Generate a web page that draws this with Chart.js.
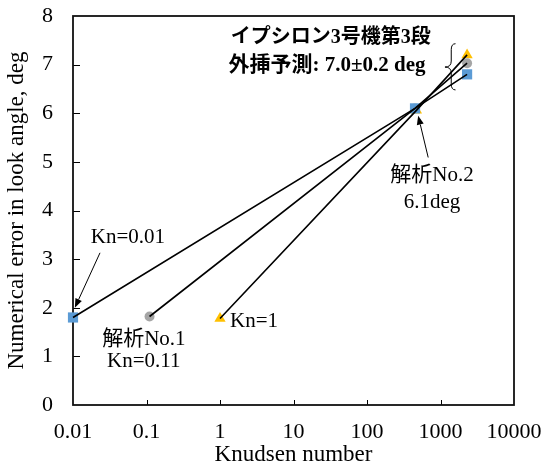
<!DOCTYPE html>
<html>
<head>
<meta charset="utf-8">
<script src="https://cdn.jsdelivr.net/npm/chart.js@4/dist/chart.umd.min.js"></script>
<style>
  html, body { margin: 0; padding: 0; background: #fff; }
</style>
</head>
<body>
<canvas id="c" width="545" height="467"></canvas>
<script>
// Axis ticks
const xTickValues = [0.01, 0.1, 1, 10, 100, 1000, 10000];
const xTickLabels = ['0.01', '0.1', '1', '10', '100', '1000', '10000'];
const yTickValues = [0, 1, 2, 3, 4, 5, 6, 7, 8];

// Kn=0.01 case: computed point, 解析No.2 point, extrapolated end
const kn001Kn = [0.01, 450, 2300];
const kn001Err = [1.8, 6.1, 6.8];

// 解析No.1 (Kn=0.11)
const kn011Kn = [0.11, 450, 2300];
const kn011Err = [1.82, 6.1, 7.03];

// Kn=1 case
const kn1Kn = [1, 470, 2300];
const kn1Err = [1.78, 6.06, 7.2];

const SERIF = "'Liberation Serif', 'Noto Sans CJK JP', serif";
const BLUE = '#5B9BD5', GRAY = '#A5A5A5', GOLD = '#FFC000';

const pts = (xs, ys) => xs.map((x, i) => ({ x: x, y: ys[i] }));

function markerSet(xs, ys, style, color, radius, order) {
  return {
    data: pts(xs, ys), showLine: false, order: order, clip: false,
    pointStyle: style, pointRadius: radius, pointHoverRadius: radius,
    pointBackgroundColor: color, pointBorderColor: color, pointBorderWidth: 0
  };
}
function lineSet(xs, ys) {
  return {
    data: pts(xs, ys), showLine: true, order: 1, clip: false,
    borderColor: '#000', borderWidth: 1.6, pointRadius: 0, pointHoverRadius: 0,
    fill: false, tension: 0
  };
}

function arrow(ctx, x1, y1, x2, y2) {
  const a = Math.atan2(y2 - y1, x2 - x1);
  const len = 9, half = 3.5;
  const bx = x2 - len * Math.cos(a), by = y2 - len * Math.sin(a);
  ctx.beginPath();
  ctx.moveTo(x1, y1);
  ctx.lineTo(bx, by);
  ctx.lineWidth = 1;
  ctx.strokeStyle = '#000';
  ctx.stroke();
  ctx.beginPath();
  ctx.moveTo(x2, y2);
  ctx.lineTo(bx + half * Math.sin(a), by - half * Math.cos(a));
  ctx.lineTo(bx - half * Math.sin(a), by + half * Math.cos(a));
  ctx.closePath();
  ctx.fillStyle = '#000';
  ctx.fill();
}

// Plot frame and inward tick marks
const framePlugin = {
  id: 'frame',
  beforeDatasetsDraw(chart) {
    const { ctx, chartArea: a, scales: { x, y } } = chart;
    ctx.save();
    ctx.strokeStyle = '#000';
    ctx.lineWidth = 1;
    xTickValues.slice(1, -1).forEach(v => {
      const px = Math.round(x.getPixelForValue(v)) + 0.5;
      ctx.beginPath();
      ctx.moveTo(px, a.bottom);
      ctx.lineTo(px, a.bottom - 5);
      ctx.stroke();
    });
    yTickValues.slice(1, -1).forEach(v => {
      const py = Math.round(y.getPixelForValue(v)) + 0.5;
      ctx.beginPath();
      ctx.moveTo(a.left, py);
      ctx.lineTo(a.left + 7, py);
      ctx.stroke();
    });
    ctx.lineWidth = 1.8;
    ctx.strokeStyle = '#111';
    ctx.strokeRect(a.left, a.top, a.right - a.left, a.bottom - a.top);
    ctx.restore();
  }
};

// Labels, arrows and the bracket around the extrapolated values
const notesPlugin = {
  id: 'notes',
  afterDatasetsDraw(chart) {
    const { ctx, scales: { x, y } } = chart;
    const X = v => x.getPixelForValue(v), Y = v => y.getPixelForValue(v);
    ctx.save();
    ctx.fillStyle = '#000';
    ctx.textBaseline = 'middle';
    ctx.textAlign = 'center';

    ctx.font = 'bold 20px ' + SERIF;
    ctx.fillText('イプシロン3号機第3段', X(32), Y(7.55));
    ctx.font = 'bold 21px ' + SERIF;
    ctx.fillText('外挿予測: 7.0±0.2 deg', X(28.6), Y(6.98));

    ctx.font = '21px ' + SERIF;
    ctx.fillText('Kn=0.01', X(0.056), Y(3.44));
    ctx.fillText('解析No.1', X(0.092), Y(1.34));
    ctx.fillText('Kn=0.11', X(0.092), Y(0.885));
    ctx.fillText('解析No.2', X(766), Y(4.71));
    ctx.fillText('6.1deg', X(766), Y(4.16));
    ctx.textAlign = 'left';
    ctx.fillText('Kn=1', X(1.37), Y(1.71));

    arrow(ctx, X(0.0233), Y(3.13), X(0.0106), Y(2.0));
    arrow(ctx, X(680), Y(5.09), X(497), Y(5.95));

    // curly bracket "{"
    const xl = X(1150), xm = X(1400), xr = X(1600);
    const yt = Y(7.43), yc = Y(6.95), yb = Y(6.48);
    ctx.beginPath();
    ctx.moveTo(xr, yt);
    ctx.quadraticCurveTo(xm, yt, xm, yt + 6);
    ctx.lineTo(xm, yc - 6);
    ctx.quadraticCurveTo(xm, yc, xl, yc);
    ctx.quadraticCurveTo(xm, yc, xm, yc + 6);
    ctx.lineTo(xm, yb - 6);
    ctx.quadraticCurveTo(xm, yb, xr, yb);
    ctx.lineWidth = 1;
    ctx.strokeStyle = '#000';
    ctx.stroke();
    ctx.restore();
  }
};

new Chart(document.getElementById('c'), {
  type: 'scatter',
  data: {
    datasets: [
      lineSet(kn1Kn, kn1Err),
      lineSet(kn011Kn, kn011Err),
      lineSet(kn001Kn, kn001Err),
      markerSet(kn1Kn, kn1Err, 'triangle', GOLD, 6.5, 4),
      markerSet(kn011Kn, kn011Err, 'circle', GRAY, 5, 3),
      markerSet(kn001Kn, kn001Err, 'rect', BLUE, 7.2, 2)
    ]
  },
  options: {
    responsive: false,
    animation: false,
    events: [],
    layout: { padding: { left: 0, top: 16, right: 31, bottom: 0 } },
    plugins: { legend: { display: false }, tooltip: { enabled: false } },
    scales: {
      x: {
        type: 'logarithmic', min: 0.01, max: 10000,
        afterBuildTicks: s => { s.ticks = xTickValues.map(v => ({ value: v })); },
        afterFit: s => { s.height = 62; s.paddingLeft = 0; s.paddingRight = 0; },
        grid: { display: false, drawTicks: false },
        border: { display: false },
        ticks: {
          autoSkip: false, maxRotation: 0, padding: 14, color: '#000',
          font: { family: SERIF, size: 22 },
          callback: (v, i) => xTickLabels[i]
        },
        title: {
          display: true, text: 'Knudsen number', color: '#000',
          font: { family: SERIF, size: 23 }, padding: { top: 0, bottom: -2 }
        }
      },
      y: {
        min: 0, max: 8,
        afterBuildTicks: s => { s.ticks = yTickValues.map(v => ({ value: v })); },
        afterFit: s => { s.width = 73; s.paddingTop = 0; s.paddingBottom = 0; },
        grid: { display: false, drawTicks: false },
        border: { display: false },
        ticks: {
          padding: 20, color: '#000',
          font: { family: SERIF, size: 22 }
        },
        title: {
          display: true, text: 'Numerical error in look angle, deg', color: '#000',
          font: { family: SERIF, size: 23 }, padding: { top: 3, bottom: 0 }
        }
      }
    }
  },
  plugins: [framePlugin, notesPlugin]
});
</script>
</body>
</html>
